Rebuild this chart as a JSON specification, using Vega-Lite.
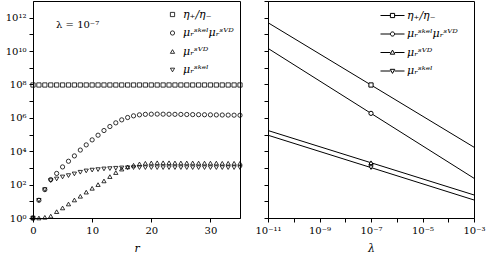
{
  "$schema": "https://vega.github.io/schema/vega-lite/v6.json",
  "padding": 0,
  "spacing": 28,
  "bounds": "flush",
  "config": {
    "font": "DejaVu Serif",
    "view": {"stroke": "black", "strokeWidth": 1},
    "axis": {"labelFont": "DejaVu Serif", "labelFontSize": 10, "titleFont": "DejaVu Serif", "titleFontSize": 11, "titleFontWeight": "normal", "domainColor": "black", "tickColor": "black", "labelColor": "black", "titleColor": "black", "grid": false, "tickSize": 4, "labelFlush": false, "labelOverlap": false},
    "legend": {"labelFont": "DejaVu Serif", "labelFontSize": 11, "labelFontStyle": "italic", "labelColor": "black", "padding": 0}
  },
  "datasets": {
    "left": [
      {"r":0,"η₊/η₋":9.3e7,"μᵣˢᵏᵉˡμᵣˢⱽᴰ":1,"μᵣˢⱽᴰ":1,"μᵣˢᵏᵉˡ":1},
      {"r":1,"η₊/η₋":9.3e7,"μᵣˢᵏᵉˡμᵣˢⱽᴰ":11.5,"μᵣˢⱽᴰ":1,"μᵣˢᵏᵉˡ":11.5},
      {"r":2,"η₊/η₋":9.3e7,"μᵣˢᵏᵉˡμᵣˢⱽᴰ":50,"μᵣˢⱽᴰ":1.1,"μᵣˢᵏᵉˡ":50},
      {"r":3,"η₊/η₋":9.3e7,"μᵣˢᵏᵉˡμᵣˢⱽᴰ":200,"μᵣˢⱽᴰ":1.3,"μᵣˢᵏᵉˡ":174},
      {"r":4,"η₊/η₋":9.3e7,"μᵣˢᵏᵉˡμᵣˢⱽᴰ":468,"μᵣˢⱽᴰ":2.4,"μᵣˢᵏᵉˡ":219},
      {"r":5,"η₊/η₋":9.3e7,"μᵣˢᵏᵉˡμᵣˢⱽᴰ":1148,"μᵣˢⱽᴰ":4.0,"μᵣˢᵏᵉˡ":288},
      {"r":6,"η₊/η₋":9.3e7,"μᵣˢᵏᵉˡμᵣˢⱽᴰ":2512,"μᵣˢⱽᴰ":6.9,"μᵣˢᵏᵉˡ":347},
      {"r":7,"η₊/η₋":9.3e7,"μᵣˢᵏᵉˡμᵣˢⱽᴰ":5248,"μᵣˢⱽᴰ":12,"μᵣˢᵏᵉˡ":437},
      {"r":8,"η₊/η₋":9.3e7,"μᵣˢᵏᵉˡμᵣˢⱽᴰ":11749,"μᵣˢⱽᴰ":20,"μᵣˢᵏᵉˡ":550},
      {"r":9,"η₊/η₋":9.3e7,"μᵣˢᵏᵉˡμᵣˢⱽᴰ":23988,"μᵣˢⱽᴰ":35.5,"μᵣˢᵏᵉˡ":661},
      {"r":10,"η₊/η₋":9.3e7,"μᵣˢᵏᵉˡμᵣˢⱽᴰ":47863,"μᵣˢⱽᴰ":60,"μᵣˢᵏᵉˡ":741},
      {"r":11,"η₊/η₋":9.3e7,"μᵣˢᵏᵉˡμᵣˢⱽᴰ":91201,"μᵣˢⱽᴰ":100,"μᵣˢᵏᵉˡ":794},
      {"r":12,"η₊/η₋":9.3e7,"μᵣˢᵏᵉˡμᵣˢⱽᴰ":173780,"μᵣˢⱽᴰ":166,"μᵣˢᵏᵉˡ":871},
      {"r":13,"η₊/η₋":9.3e7,"μᵣˢᵏᵉˡμᵣˢⱽᴰ":301995,"μᵣˢⱽᴰ":302,"μᵣˢᵏᵉˡ":912},
      {"r":14,"η₊/η₋":9.3e7,"μᵣˢᵏᵉˡμᵣˢⱽᴰ":501187,"μᵣˢⱽᴰ":525,"μᵣˢᵏᵉˡ":955},
      {"r":15,"η₊/η₋":9.3e7,"μᵣˢᵏᵉˡμᵣˢⱽᴰ":758578,"μᵣˢⱽᴰ":851,"μᵣˢᵏᵉˡ":1000},
      {"r":16,"η₊/η₋":9.3e7,"μᵣˢᵏᵉˡμᵣˢⱽᴰ":1047129,"μᵣˢⱽᴰ":1148,"μᵣˢᵏᵉˡ":1023},
      {"r":17,"η₊/η₋":9.3e7,"μᵣˢᵏᵉˡμᵣˢⱽᴰ":1318257,"μᵣˢⱽᴰ":1445,"μᵣˢᵏᵉˡ":1047},
      {"r":18,"η₊/η₋":9.3e7,"μᵣˢᵏᵉˡμᵣˢⱽᴰ":1513561,"μᵣˢⱽᴰ":1738,"μᵣˢᵏᵉˡ":1047},
      {"r":19,"η₊/η₋":9.3e7,"μᵣˢᵏᵉˡμᵣˢⱽᴰ":1621810,"μᵣˢⱽᴰ":1905,"μᵣˢᵏᵉˡ":1047},
      {"r":20,"η₊/η₋":9.3e7,"μᵣˢᵏᵉˡμᵣˢⱽᴰ":1659587,"μᵣˢⱽᴰ":1995,"μᵣˢᵏᵉˡ":1047},
      {"r":21,"η₊/η₋":9.3e7,"μᵣˢᵏᵉˡμᵣˢⱽᴰ":1678804,"μᵣˢⱽᴰ":2042,"μᵣˢᵏᵉˡ":1047},
      {"r":22,"η₊/η₋":9.3e7,"μᵣˢᵏᵉˡμᵣˢⱽᴰ":1659587,"μᵣˢⱽᴰ":2042,"μᵣˢᵏᵉˡ":1047},
      {"r":23,"η₊/η₋":9.3e7,"μᵣˢᵏᵉˡμᵣˢⱽᴰ":1640590,"μᵣˢⱽᴰ":2042,"μᵣˢᵏᵉˡ":1047},
      {"r":24,"η₊/η₋":9.3e7,"μᵣˢᵏᵉˡμᵣˢⱽᴰ":1621810,"μᵣˢⱽᴰ":1995,"μᵣˢᵏᵉˡ":1047},
      {"r":25,"η₊/η₋":9.3e7,"μᵣˢᵏᵉˡμᵣˢⱽᴰ":1603245,"μᵣˢⱽᴰ":1995,"μᵣˢᵏᵉˡ":1047},
      {"r":26,"η₊/η₋":9.3e7,"μᵣˢᵏᵉˡμᵣˢⱽᴰ":1584893,"μᵣˢⱽᴰ":1995,"μᵣˢᵏᵉˡ":1047},
      {"r":27,"η₊/η₋":9.3e7,"μᵣˢᵏᵉˡμᵣˢⱽᴰ":1566751,"μᵣˢⱽᴰ":1995,"μᵣˢᵏᵉˡ":1047},
      {"r":28,"η₊/η₋":9.3e7,"μᵣˢᵏᵉˡμᵣˢⱽᴰ":1548817,"μᵣˢⱽᴰ":1950,"μᵣˢᵏᵉˡ":1047},
      {"r":29,"η₊/η₋":9.3e7,"μᵣˢᵏᵉˡμᵣˢⱽᴰ":1531087,"μᵣˢⱽᴰ":1950,"μᵣˢᵏᵉˡ":1047},
      {"r":30,"η₊/η₋":9.3e7,"μᵣˢᵏᵉˡμᵣˢⱽᴰ":1513561,"μᵣˢⱽᴰ":1950,"μᵣˢᵏᵉˡ":1047},
      {"r":31,"η₊/η₋":9.3e7,"μᵣˢᵏᵉˡμᵣˢⱽᴰ":1496236,"μᵣˢⱽᴰ":1950,"μᵣˢᵏᵉˡ":1047},
      {"r":32,"η₊/η₋":9.3e7,"μᵣˢᵏᵉˡμᵣˢⱽᴰ":1479108,"μᵣˢⱽᴰ":1905,"μᵣˢᵏᵉˡ":1047},
      {"r":33,"η₊/η₋":9.3e7,"μᵣˢᵏᵉˡμᵣˢⱽᴰ":1462177,"μᵣˢⱽᴰ":1905,"μᵣˢᵏᵉˡ":1047},
      {"r":34,"η₊/η₋":9.3e7,"μᵣˢᵏᵉˡμᵣˢⱽᴰ":1445440,"μᵣˢⱽᴰ":1905,"μᵣˢᵏᵉˡ":1047},
      {"r":35,"η₊/η₋":9.3e7,"μᵣˢᵏᵉˡμᵣˢⱽᴰ":1428894,"μᵣˢⱽᴰ":1905,"μᵣˢᵏᵉˡ":1047}
    ],
    "right": [
      {"lam":1e-11,"η₊/η₋":5.0e11,"μᵣˢᵏᵉˡμᵣˢⱽᴰ":1.45e10,"μᵣˢⱽᴰ":1.74e5,"μᵣˢᵏᵉˡ":9.1e4},
      {"lam":1e-7,"η₊/η₋":9.3e7,"μᵣˢᵏᵉˡμᵣˢⱽᴰ":1.86e6,"μᵣˢⱽᴰ":2042,"μᵣˢᵏᵉˡ":1047},
      {"lam":1e-3,"η₊/η₋":1.74e4,"μᵣˢᵏᵉˡμᵣˢⱽᴰ":240,"μᵣˢⱽᴰ":24,"μᵣˢᵏᵉˡ":12}
    ],
    "note": [{"label": "λ = 10⁻⁷"}]
  },
  "hconcat": [
    {
      "width": 207,
      "height": 217,
      "layer": [
        {
          "data": {"name": "left"},
          "transform": [{"fold": ["η₊/η₋","μᵣˢᵏᵉˡμᵣˢⱽᴰ","μᵣˢⱽᴰ","μᵣˢᵏᵉˡ"], "as": ["series","value"]}],
          "mark": {"type": "point", "filled": false, "stroke": "black", "strokeWidth": 0.8, "size": 18, "opacity": 1},
          "encoding": {
            "x": {"field": "r", "type": "quantitative", "scale": {"domain": [0,35], "nice": false},
                  "axis": {"title": "r", "titleFontStyle": "italic", "values": [0,10,20,30], "labelPadding": 3, "titlePadding": 7}},
            "y": {"field": "value", "type": "quantitative", "scale": {"type": "log", "domain": [1,1e13], "nice": false},
                  "axis": {"title": null, "values": [1,10,100,1e3,1e4,1e5,1e6,1e7,1e8,1e9,1e10,1e11,1e12],
                           "labelExpr": "['10⁰','','10²','','10⁴','','10⁶','','10⁸','','10¹⁰','','10¹²'][round(log(datum.value)/LN10)]",
                           "minExtent": 32, "maxExtent": 32, "labelPadding": 3}},
            "shape": {"field": "series", "type": "nominal",
                      "scale": {"domain": ["η₊/η₋","μᵣˢᵏᵉˡμᵣˢⱽᴰ","μᵣˢⱽᴰ","μᵣˢᵏᵉˡ"], "range": ["square","circle","triangle-up","triangle-down"]},
                      "legend": {"title": null, "orient": "none", "legendX": 134, "legendY": 8, "symbolSize": 18, "symbolStrokeWidth": 0.8, "symbolStrokeColor": "black", "labelOffset": 5, "rowPadding": 6.5}}
          }
        },
        {
          "data": {"name": "note"},
          "mark": {"type": "text", "align": "left", "baseline": "middle", "fontSize": 10, "font": "DejaVu Serif"},
          "encoding": {
            "x": {"datum": 3.9, "type": "quantitative"},
            "y": {"datum": 3.6e11, "type": "quantitative"},
            "text": {"field": "label"}
          }
        }
      ]
    },
    {
      "width": 206,
      "height": 217,
      "data": {"name": "right"},
      "transform": [{"fold": ["η₊/η₋","μᵣˢᵏᵉˡμᵣˢⱽᴰ","μᵣˢⱽᴰ","μᵣˢᵏᵉˡ"], "as": ["series","value"]}],
      "encoding": {
        "x": {"field": "lam", "type": "quantitative", "scale": {"type": "log", "domain": [1e-11,1e-3], "nice": false},
              "axis": {"title": "λ", "titleFontStyle": "italic", "values": [1e-11,1e-10,1e-9,1e-8,1e-7,1e-6,1e-5,1e-4,1e-3],
                       "labelExpr": "['10⁻¹¹','','10⁻⁹','','10⁻⁷','','10⁻⁵','','10⁻³'][round(log(datum.value)/LN10)+11]",
                       "labelPadding": 3, "titlePadding": 7}},
        "y": {"field": "value", "type": "quantitative", "scale": {"type": "log", "domain": [1,1e13], "nice": false},
              "axis": {"title": null, "labels": false, "minExtent": 4, "maxExtent": 4, "values": [1,10,100,1e3,1e4,1e5,1e6,1e7,1e8,1e9,1e10,1e11,1e12,1e13]}}
      },
      "layer": [
        {
          "mark": {"type": "line", "stroke": "black", "strokeWidth": 1},
          "encoding": {"detail": {"field": "series", "type": "nominal"}}
        },
        {
          "transform": [{"filter": "datum.lam > 1e-8 && datum.lam < 1e-6"}],
          "mark": {"type": "point", "filled": true, "fill": "white", "stroke": "black", "strokeWidth": 1, "size": 18, "opacity": 1},
          "encoding": {
            "shape": {"field": "series", "type": "nominal",
                      "scale": {"domain": ["η₊/η₋","μᵣˢᵏᵉˡμᵣˢⱽᴰ","μᵣˢⱽᴰ","μᵣˢᵏᵉˡ"], "range": ["square","circle","triangle-up","triangle-down"]},
                      "legend": null}
          }
        },
        {
          "transform": [{"filter": "false"}],
          "mark": {"type": "point", "filled": false, "stroke": "black", "strokeWidth": 1, "opacity": 1},
          "encoding": {
            "shape": {"field": "series", "type": "nominal",
                      "scale": {"domain": ["η₊/η₋","μᵣˢᵏᵉˡμᵣˢⱽᴰ","μᵣˢⱽᴰ","μᵣˢᵏᵉˡ"],
                                "range": [
                                  "M-2,0H-0.35M0.35,0H2M-0.35,-0.35H0.35V0.35H-0.35Z",
                                  "M-2,0H-0.35M0.35,0H2M0.35,0A0.35,0.35 0 1,1 -0.35,0A0.35,0.35 0 1,1 0.35,0Z",
                                  "M-2,0H-0.35M0.35,0H2M0,-0.4L0.38,0.28L-0.38,0.28Z",
                                  "M-2,0H-0.35M0.35,0H2M0,0.4L0.38,-0.28L-0.38,-0.28Z"
                                ]},
                      "legend": {"title": null, "orient": "none", "legendX": 118, "legendY": 8, "symbolSize": 144, "symbolStrokeWidth": 1, "symbolStrokeColor": "black", "symbolFillColor": "white", "labelOffset": 8, "rowPadding": 6.5}}
          }
        }
      ],
      "resolve": {"scale": {"shape": "independent"}}
    }
  ]
}
